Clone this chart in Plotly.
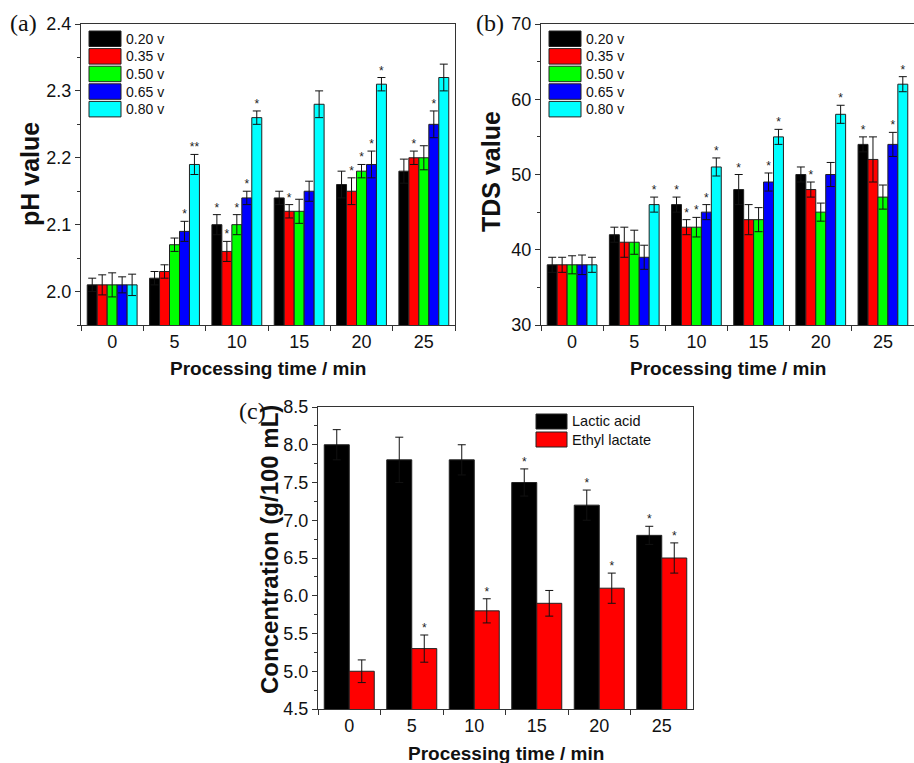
import plotly.graph_objects as go

# ---------------- data ----------------
times = ["0", "5", "10", "15", "20", "25"]
voltages = ["0.20 v", "0.35 v", "0.50 v", "0.65 v", "0.80 v"]
volt_colors = ["#000000", "#FF0000", "#00FF00", "#0000FF", "#00FFFF"]

ph_020 = [2.01, 2.02, 2.10, 2.14, 2.16, 2.18]
ph_035 = [2.01, 2.03, 2.06, 2.12, 2.15, 2.20]
ph_050 = [2.01, 2.07, 2.10, 2.12, 2.18, 2.20]
ph_065 = [2.01, 2.09, 2.14, 2.15, 2.19, 2.25]
ph_080 = [2.01, 2.19, 2.26, 2.28, 2.31, 2.32]
ph_err_020 = [0.010, 0.010, 0.015, 0.010, 0.020, 0.018]
ph_err_035 = [0.015, 0.010, 0.015, 0.010, 0.020, 0.010]
ph_err_050 = [0.018, 0.010, 0.015, 0.018, 0.010, 0.018]
ph_err_065 = [0.012, 0.015, 0.010, 0.015, 0.020, 0.020]
ph_err_080 = [0.016, 0.015, 0.010, 0.020, 0.010, 0.020]
ph_sig_020 = ["", "", "*", "", "", ""]
ph_sig_035 = ["", "", "*", "*", "*", "*"]
ph_sig_050 = ["", "", "*", "", "*", ""]
ph_sig_065 = ["", "*", "*", "", "*", "*"]
ph_sig_080 = ["", "**", "*", "", "*", ""]

tds_020 = [38, 42, 46, 48, 50, 54]
tds_035 = [38, 41, 43, 44, 48, 52]
tds_050 = [38, 41, 43, 44, 45, 47]
tds_065 = [38, 39, 45, 49, 50, 54]
tds_080 = [38, 46, 51, 55, 58, 62]
tds_err_020 = [1.0, 1.0, 1.0, 2.0, 1.0, 1.0]
tds_err_035 = [1.0, 2.0, 1.0, 2.0, 1.0, 3.0]
tds_err_050 = [1.2, 1.6, 1.3, 1.6, 1.2, 1.6]
tds_err_065 = [1.3, 1.6, 1.0, 1.2, 1.6, 1.6]
tds_err_080 = [1.0, 1.0, 1.2, 1.0, 1.2, 1.0]
tds_sig_020 = ["", "", "*", "*", "", "*"]
tds_sig_035 = ["", "", "*", "", "*", ""]
tds_sig_050 = ["", "", "*", "", "", ""]
tds_sig_065 = ["", "", "*", "*", "", "*"]
tds_sig_080 = ["", "*", "*", "*", "*", "*"]

acids = ["Lactic acid", "Ethyl lactate"]
acid_colors = ["#000000", "#FF0000"]
lactic = [8.0, 7.8, 7.8, 7.5, 7.2, 6.8]
lactic_err = [0.20, 0.30, 0.20, 0.18, 0.20, 0.12]
lactic_sig = ["", "", "", "*", "*", "*"]
ethyl = [5.0, 5.3, 5.8, 5.9, 6.1, 6.5]
ethyl_err = [0.15, 0.18, 0.16, 0.17, 0.20, 0.20]
ethyl_sig = ["", "*", "*", "", "*", "*"]

ph_vals = [ph_020, ph_035, ph_050, ph_065, ph_080]
ph_errs = [ph_err_020, ph_err_035, ph_err_050, ph_err_065, ph_err_080]
ph_sigs = [ph_sig_020, ph_sig_035, ph_sig_050, ph_sig_065, ph_sig_080]
tds_vals = [tds_020, tds_035, tds_050, tds_065, tds_080]
tds_errs = [tds_err_020, tds_err_035, tds_err_050, tds_err_065, tds_err_080]
tds_sigs = [tds_sig_020, tds_sig_035, tds_sig_050, tds_sig_065, tds_sig_080]
conc_vals = [lactic, ethyl]
conc_errs = [lactic_err, ethyl_err]
conc_sigs = [lactic_sig, ethyl_sig]

# ---------------- figure ----------------
W, H = 914, 763
SANS = "Liberation Sans, Arial, sans-serif"
SERIF = "Liberation Serif, Times New Roman, serif"
AX = "#333333"

fig = go.Figure()


def add_panel(xa, ya, names, colors, vals, errs, sigs, gid):
    for j, (nm, col, v, e) in enumerate(zip(names, colors, vals, errs)):
        fig.add_trace(go.Bar(
            x=times, y=v, name=nm, xaxis=xa, yaxis=ya,
            marker=dict(color=col, line=dict(color="#222222", width=1)),
            error_y=dict(type="data", array=e, color="#111111", thickness=1, width=4),
            offsetgroup=f"{gid}{j}", showlegend=False, hoverinfo="skip",
        ))
    for j, (v, e, s) in enumerate(zip(vals, errs, sigs)):
        ys = [vv + ee if ss else None for vv, ee, ss in zip(v, e, s)]
        fig.add_trace(go.Scatter(
            x=times, y=ys, text=s, mode="text", textposition="top center",
            textfont=dict(family=SANS, size=12, color="#222222"),
            xaxis=xa, yaxis=ya, offsetgroup=f"{gid}{j}", showlegend=False,
            hoverinfo="skip", cliponaxis=False,
        ))


add_panel("x", "y", voltages, volt_colors, ph_vals, ph_errs, ph_sigs, "a")
add_panel("x2", "y2", voltages, volt_colors, tds_vals, tds_errs, tds_sigs, "b")
add_panel("x3", "y3", acids, acid_colors, conc_vals, conc_errs, conc_sigs, "c")


def px_x(p):
    return p / W


def px_y(p):
    return 1 - p / H


xcommon = dict(type="category", showline=True, linecolor=AX, linewidth=1.2, mirror=True,
               ticks="outside", ticklen=5, tickwidth=1, tickcolor=AX, tickson="boundaries",
               showgrid=False, zeroline=False, automargin=False,
               tickfont=dict(family=SANS, size=18, color="#111111"))
ycommon = dict(showline=True, linecolor=AX, linewidth=1.2, mirror=True,
               ticks="outside", ticklen=5, tickwidth=1, tickcolor=AX,
               showgrid=False, zeroline=False, automargin=False,
               tickfont=dict(family=SANS, size=18, color="#111111"))

fig.update_layout(
    template="none",
    width=W, height=H, margin=dict(l=0, r=0, t=0, b=0, pad=0),
    paper_bgcolor="white", plot_bgcolor="white",
    barmode="group", bargap=0.2, bargroupgap=0,
    scattermode="group", scattergap=0.2,
    showlegend=False,
    xaxis=dict(domain=[px_x(81), px_x(455)], anchor="y", **xcommon),
    yaxis=dict(domain=[px_y(325), px_y(24)], anchor="x", range=[1.95, 2.4],
               dtick=0.1, tickformat=".1f",
               minor=dict(ticks="outside", ticklen=3, dtick=0.05, tickcolor=AX), **ycommon),
    xaxis2=dict(domain=[px_x(541), px_x(914)], anchor="y2", **xcommon),
    yaxis2=dict(domain=[px_y(325), px_y(24)], anchor="x2", range=[30, 70],
                dtick=10, minor=dict(ticks="outside", ticklen=3, dtick=5, tickcolor=AX), **ycommon),
    xaxis3=dict(domain=[px_x(318), px_x(693)], anchor="y3", **xcommon),
    yaxis3=dict(domain=[px_y(709), px_y(407)], anchor="x3", range=[4.5, 8.5],
                dtick=0.5, tickformat=".1f",
                minor=dict(ticks="outside", ticklen=3, dtick=0.25, tickcolor=AX), **ycommon),
)

ann = []
shapes = []
# axis titles
xt = dict(family=SANS, size=19, color="#111111")
yt = dict(family=SANS, size=25, color="#111111")
for cx, cy, txt in [(268, 369, "Processing time / min"), (728, 368, "Processing time / min"),
                    (506, 753, "Processing time / min")]:
    ann.append(dict(x=px_x(cx), y=px_y(cy), xref="paper", yref="paper", text=f"<b>{txt}</b>",
                    showarrow=False, font=xt, xanchor="center", yanchor="middle"))
for cx, cy, txt, fs in [(30, 174, "pH value", 25), (491, 172, "TDS value", 25),
                        (269, 550, "Concentration (g/100 mL)", 24)]:
    ann.append(dict(x=px_x(cx), y=px_y(cy), xref="paper", yref="paper", text=f"<b>{txt}</b>",
                    showarrow=False, font=dict(yt, size=fs), textangle=-90,
                    xanchor="center", yanchor="middle"))
# panel labels
for cx, cy, txt in [(23, 23, "(a)"), (490, 23, "(b)"), (253, 411, "(c)")]:
    ann.append(dict(x=px_x(cx), y=px_y(cy), xref="paper", yref="paper", text=txt,
                    showarrow=False, font=dict(family=SERIF, size=24, color="#111111"),
                    xanchor="center", yanchor="middle"))


# custom legends (box + label)
def legend(x0, y0, names, colors, bw, bh, step, fsize):
    for i, (nm, col) in enumerate(zip(names, colors)):
        top = y0 + i * step
        shapes.append(dict(type="rect", xref="paper", yref="paper",
                           x0=px_x(x0), x1=px_x(x0 + bw), y0=px_y(top + bh), y1=px_y(top),
                           fillcolor=col, line=dict(color="#222222", width=1)))
        ann.append(dict(x=px_x(x0 + bw + 3), y=px_y(top + bh / 2), xref="paper", yref="paper",
                        text=nm, showarrow=False, xanchor="left", yanchor="middle",
                        font=dict(family=SANS, size=fsize, color="#111111")))


legend(89, 31, voltages, volt_colors, 32, 15.5, 17.6, 14)
legend(549, 31, voltages, volt_colors, 32, 15.5, 17.6, 14)
legend(536, 414, acids, acid_colors, 31, 15, 18, 14.5)

fig.update_layout(annotations=ann, shapes=shapes)
fig.write_html("out.html", config={"displayModeBar": False},
               post_script="document.body.style.margin='0';document.body.style.overflow='hidden';")
